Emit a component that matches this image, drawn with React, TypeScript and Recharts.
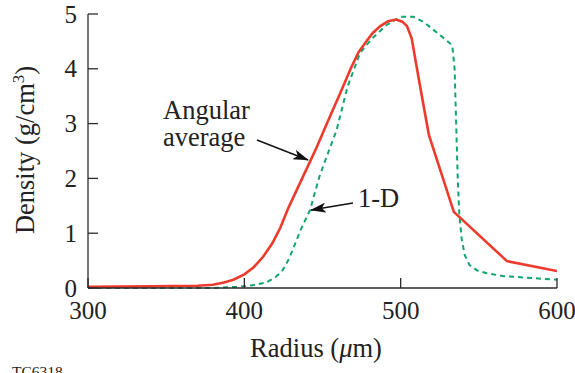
import React from "react";
import { LineChart, Line, XAxis, YAxis } from "recharts";

// ─── Data ──────────────────────────────────────────────────────────────────────

const radiusAngular = [
  300, 340, 370, 380, 387, 393, 400, 406, 412, 418, 423, 428, 437, 446, 454,
  462, 468, 473, 478, 482, 487, 492, 497, 501, 504, 507, 512, 518, 534, 568, 600,
];
const densityAngular = [
  0.02, 0.03, 0.04, 0.06, 0.1, 0.15, 0.25, 0.38, 0.57, 0.82, 1.1, 1.45, 2.0,
  2.55, 3.08, 3.6, 4.0, 4.3, 4.5, 4.65, 4.78, 4.87, 4.9, 4.86, 4.78, 4.56, 3.75,
  2.8, 1.39, 0.49, 0.31,
];

const radiusOneD = [
  300, 380, 395, 405, 414, 420, 424, 428, 431, 436, 442, 448, 454, 459, 466,
  474, 482, 491, 500, 508, 515, 521, 528, 533, 534.5, 535.5, 536.5, 537.5, 539,
  541, 544, 549, 555, 565, 575, 600,
];
const densityOneD = [
  0, 0, 0.02, 0.05, 0.1, 0.2, 0.3, 0.5, 0.7, 1.06, 1.42, 2.03, 2.5, 2.88, 3.67,
  4.29, 4.56, 4.8, 4.95, 4.95, 4.85, 4.71, 4.55, 4.43, 4.0, 3.0, 2.0, 1.35, 0.9,
  0.6, 0.42, 0.32, 0.27, 0.22, 0.2, 0.15,
];

const xTicks = [300, 400, 500, 600];
const yTicks = [0, 1, 2, 3, 4, 5];

const angularData = radiusAngular.map((r, i) => ({ r, d: densityAngular[i] }));
const oneDData = radiusOneD.map((r, i) => ({ r, d: densityOneD[i] }));

// ─── Styling ───────────────────────────────────────────────────────────────────

const SERIF = "'Liberation Serif', 'Times New Roman', serif";
const AXIS = "#2b2b2b";
const RED = "#ee3a2c";
const GREEN = "#0fa56b";

const labelStyle = { fontFamily: SERIF, fontSize: 25, fill: "#222" };

// tick labels drawn by hand so the serif font sticks
function XTick({ x, y, payload }: any) {
  return (
    <text x={x} y={y} dy="0.71em" textAnchor="middle" style={labelStyle}>
      {payload.value}
    </text>
  );
}

function YTick({ x, y, payload }: any) {
  return (
    <text x={x} y={y} dy="0.34em" textAnchor="end" style={labelStyle}>
      {payload.value}
    </text>
  );
}

// ─── Component ─────────────────────────────────────────────────────────────────

export default function App() {
  return (
    <div
      style={{
        position: "absolute",
        left: 0,
        top: 0,
        width: 575,
        height: 373,
        background: "#fff",
        fontFamily: SERIF,
        color: "#222",
        overflow: "hidden",
      }}
    >
      <LineChart
        width={575}
        height={373}
        margin={{ top: 14, right: 18, bottom: 45, left: 28 }}
      >
        <XAxis
          xAxisId="b"
          dataKey="r"
          type="number"
          domain={[300, 600]}
          ticks={xTicks}
          allowDataOverflow
          height={40}
          tickSize={-10}
          tickMargin={23}
          tick={<XTick />}
          stroke={AXIS}
          strokeWidth={1.3}
        />
        <XAxis
          xAxisId="t"
          orientation="top"
          type="number"
          domain={[300, 600]}
          height={0}
          tick={false}
          stroke={AXIS}
          strokeWidth={1.3}
        />
        <YAxis
          yAxisId="l"
          type="number"
          domain={[0, 5]}
          ticks={yTicks}
          width={60}
          tickSize={-10}
          tickMargin={21}
          tick={<YTick />}
          stroke={AXIS}
          strokeWidth={1.3}
        />
        <YAxis
          yAxisId="r"
          orientation="right"
          type="number"
          domain={[0, 5]}
          ticks={yTicks}
          width={0}
          tickSize={-10}
          tickFormatter={() => ""}
          stroke={AXIS}
          strokeWidth={1.3}
        />
        <Line
          xAxisId="b"
          yAxisId="l"
          data={oneDData}
          dataKey="d"
          type="linear"
          stroke={GREEN}
          strokeWidth={2}
          strokeDasharray="5 4"
          dot={false}
          isAnimationActive={false}
        />
        <Line
          xAxisId="b"
          yAxisId="l"
          data={angularData}
          dataKey="d"
          type="linear"
          stroke={RED}
          strokeWidth={2.6}
          dot={false}
          isAnimationActive={false}
        />
      </LineChart>

      {/* annotations and arrows */}
      <svg
        width={575}
        height={373}
        style={{ position: "absolute", left: 0, top: 0, pointerEvents: "none" }}
      >
        <defs>
          <marker
            id="head"
            viewBox="0 0 16 10"
            refX="15"
            refY="5"
            markerWidth="16"
            markerHeight="10"
            markerUnits="userSpaceOnUse"
            orient="auto"
          >
            <path d="M0,0 L16,5 L0,10 L4,5 Z" fill="#111" />
          </marker>
        </defs>
        <line x1={257} y1={140} x2={308} y2={160} stroke="#111" strokeWidth={1.4} markerEnd="url(#head)" />
        <line x1={353} y1={203} x2={311} y2={210} stroke="#111" strokeWidth={1.4} markerEnd="url(#head)" />
      </svg>

      <div style={{ position: "absolute", left: 163, top: 97, fontSize: 26.5, lineHeight: 1 }}>
        Angular
      </div>
      <div style={{ position: "absolute", left: 163, top: 124, fontSize: 26.5, lineHeight: 1 }}>
        average
      </div>
      <div style={{ position: "absolute", left: 358, top: 185, fontSize: 26.5, lineHeight: 1 }}>
        1-D
      </div>

      <div
        style={{
          position: "absolute",
          left: 316,
          top: 335,
          transform: "translateX(-50%)",
          fontSize: 26.5,
          lineHeight: 1,
          whiteSpace: "nowrap",
        }}
      >
        Radius (<i>μ</i>m)
      </div>

      <div
        style={{
          position: "absolute",
          left: 25,
          top: 150,
          transform: "translate(-50%, -50%) rotate(-90deg)",
          fontSize: 26.5,
          lineHeight: 1,
          whiteSpace: "nowrap",
        }}
      >
        Density (g/cm<sup style={{ fontSize: 17, verticalAlign: "0.55em", lineHeight: 0 }}>3</sup>)
      </div>

      <div style={{ position: "absolute", left: 12, top: 364, fontSize: 15.5, lineHeight: 1 }}>
        TC6318
      </div>
    </div>
  );
}
